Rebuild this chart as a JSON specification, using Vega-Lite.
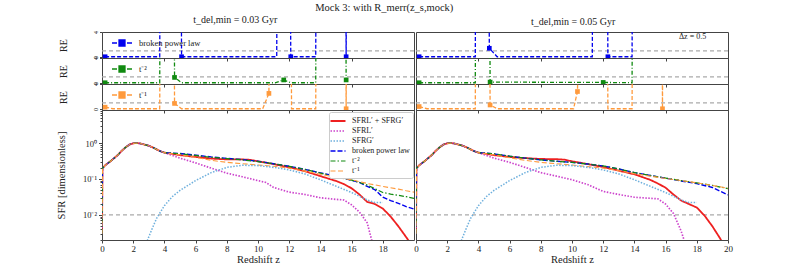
{
"$schema":"https://vega.github.io/schema/vega-lite/v6.json",
"padding":{"left":55,"top":2,"right":5,"bottom":2},
"title":{"text":"Mock 3: with R_merr(z_s,mock)","fontSize":10.5,"anchor":"middle","offset":2,"dx":-10},
"datasets":{
"reL":[
{"c":"a","s":"b","z":0.2,"v":0.05},{"c":"a","s":"b","z":3.7,"v":0.05},{"c":"a","s":"b","z":3.75,"v":30},{"c":"a","s":"b","z":5.05,"v":30},{"c":"a","s":"b","z":5.1,"v":0.05},{"c":"a","s":"b","z":11.2,"v":0.05},{"c":"a","s":"b","z":11.25,"v":30},{"c":"a","s":"b","z":12.05,"v":30},{"c":"a","s":"b","z":12.1,"v":0.05},{"c":"a","s":"b","z":13.7,"v":0.05},{"c":"a","s":"b","z":13.75,"v":30},{"c":"a","s":"b","z":15.6,"v":30},{"c":"a","s":"b","z":15.65,"v":0.05},{"c":"a","s":"b","z":15.7,"v":30},
{"c":"a","s":"t2","z":0.2,"v":0.05},{"c":"a","s":"t2","z":3.7,"v":0.05},{"c":"a","s":"t2","z":3.75,"v":30},{"c":"a","s":"t2","z":4.6,"v":30},{"c":"a","s":"t2","z":4.65,"v":0.9},{"c":"a","s":"t2","z":5.1,"v":0.05},{"c":"a","s":"t2","z":11.1,"v":0.05},{"c":"a","s":"t2","z":11.65,"v":0.5},{"c":"a","s":"t2","z":12.1,"v":0.05},{"c":"a","s":"t2","z":13.7,"v":0.05},{"c":"a","s":"t2","z":13.75,"v":30},{"c":"a","s":"t2","z":15.6,"v":30},{"c":"a","s":"t2","z":15.65,"v":0.5},
{"c":"a","s":"t1","z":0.2,"v":0.3},{"c":"a","s":"t1","z":0.7,"v":0.05},{"c":"a","s":"t1","z":3.7,"v":0.05},{"c":"a","s":"t1","z":3.75,"v":30},{"c":"a","s":"t1","z":4.6,"v":30},{"c":"a","s":"t1","z":4.65,"v":0.9},{"c":"a","s":"t1","z":5.1,"v":0.05},{"c":"a","s":"t1","z":10.3,"v":0.05},{"c":"a","s":"t1","z":10.7,"v":2.5},{"c":"a","s":"t1","z":10.75,"v":30},{"c":"a","s":"t1","z":12.1,"v":30},{"c":"a","s":"t1","z":12.15,"v":0.05},{"c":"a","s":"t1","z":13.7,"v":0.05},{"c":"a","s":"t1","z":13.75,"v":30},{"c":"a","s":"t1","z":15.6,"v":30},{"c":"a","s":"t1","z":15.65,"v":0.05},{"c":"a","s":"t1","z":15.7,"v":30},
{"c":"b","s":"b","z":0.2,"v":0.05},{"c":"b","s":"b","z":3.8,"v":0.05},{"c":"b","s":"b","z":3.85,"v":30},{"c":"b","s":"b","z":4.65,"v":30},{"c":"b","s":"b","z":4.7,"v":1.4},{"c":"b","s":"b","z":5.2,"v":0.05},{"c":"b","s":"b","z":11.3,"v":0.05},{"c":"b","s":"b","z":11.35,"v":30},{"c":"b","s":"b","z":12.25,"v":30},{"c":"b","s":"b","z":12.3,"v":0.05},{"c":"b","s":"b","z":13.85,"v":0.05},{"c":"b","s":"b","z":13.9,"v":30},
{"c":"b","s":"t2","z":0.2,"v":0.05},{"c":"b","s":"t2","z":3.8,"v":0.05},{"c":"b","s":"t2","z":3.85,"v":30},{"c":"b","s":"t2","z":4.7,"v":30},{"c":"b","s":"t2","z":4.75,"v":0.15},{"c":"b","s":"t2","z":12,"v":0.1},{"c":"b","s":"t2","z":13.85,"v":0.05},{"c":"b","s":"t2","z":13.9,"v":30},
{"c":"b","s":"t1","z":0.2,"v":0.4},{"c":"b","s":"t1","z":0.7,"v":0.05},{"c":"b","s":"t1","z":3.8,"v":0.05},{"c":"b","s":"t1","z":3.85,"v":30},{"c":"b","s":"t1","z":4.7,"v":30},{"c":"b","s":"t1","z":4.75,"v":0.65},{"c":"b","s":"t1","z":5.2,"v":0.05},{"c":"b","s":"t1","z":10.1,"v":0.05},{"c":"b","s":"t1","z":10.35,"v":2.8},{"c":"b","s":"t1","z":10.6,"v":30},{"c":"b","s":"t1","z":12.25,"v":30},{"c":"b","s":"t1","z":12.3,"v":0.05},{"c":"b","s":"t1","z":13.85,"v":0.05},{"c":"b","s":"t1","z":13.9,"v":30},{"c":"b","s":"t1","z":15.75,"v":30},{"c":"b","s":"t1","z":15.8,"v":0.05},{"c":"b","s":"t1","z":15.85,"v":30}
],
"reM":[
{"c":"a","s":"b","z":0.2,"v":0.05},{"c":"a","s":"b","z":5.1,"v":0.05},{"c":"a","s":"b","z":12.1,"v":0.05},{"c":"a","s":"b","z":15.65,"v":0.05},
{"c":"a","s":"t2","z":0.2,"v":0.05},{"c":"a","s":"t2","z":4.65,"v":0.9},{"c":"a","s":"t2","z":11.65,"v":0.5},{"c":"a","s":"t2","z":15.65,"v":0.5},
{"c":"a","s":"t1","z":0.2,"v":0.3},{"c":"a","s":"t1","z":4.65,"v":0.9},{"c":"a","s":"t1","z":10.7,"v":2.5},{"c":"a","s":"t1","z":15.65,"v":0.05},
{"c":"b","s":"b","z":0.2,"v":0.05},{"c":"b","s":"b","z":4.7,"v":1.4},{"c":"b","s":"b","z":12.3,"v":0.05},
{"c":"b","s":"t2","z":0.2,"v":0.05},{"c":"b","s":"t2","z":4.75,"v":0.15},{"c":"b","s":"t2","z":12,"v":0.1},
{"c":"b","s":"t1","z":0.2,"v":0.4},{"c":"b","s":"t1","z":4.75,"v":0.65},{"c":"b","s":"t1","z":10.35,"v":2.8},{"c":"b","s":"t1","z":15.8,"v":0.05}
],
"main":[
{"c":"x","z":0,"r":0.003,"m":0.003,"b":0.003,"t2":0.003,"t1":0.003},
{"c":"x","z":0.03,"r":0.2,"m":0.2,"b":0.2,"t2":0.2,"t1":0.2},
{"c":"x","z":0.25,"r":0.25,"m":0.25,"b":0.25,"t2":0.25,"t1":0.25},
{"c":"x","z":0.5,"r":0.3,"m":0.3,"b":0.3,"t2":0.3,"t1":0.3},
{"c":"x","z":0.75,"r":0.37,"m":0.37,"b":0.37,"t2":0.37,"t1":0.37},
{"c":"x","z":1,"r":0.46,"m":0.46,"b":0.46,"t2":0.46,"t1":0.46},
{"c":"x","z":1.25,"r":0.6,"m":0.6,"b":0.6,"t2":0.6,"t1":0.6},
{"c":"x","z":1.5,"r":0.75,"m":0.75,"b":0.75,"t2":0.75,"t1":0.75},
{"c":"x","z":1.75,"r":0.9,"m":0.9,"b":0.9,"t2":0.9,"t1":0.9},
{"c":"x","z":2,"r":0.98,"m":0.98,"b":0.98,"t2":0.98,"t1":0.98},
{"c":"x","z":2.25,"r":1.0,"m":1.0,"b":1.0,"t2":1.0,"t1":1.0},
{"c":"x","z":2.5,"r":0.96,"m":0.96,"b":0.96,"t2":0.96,"t1":0.96},
{"c":"x","z":3,"r":0.84,"m":0.84,"b":0.84,"t2":0.84,"t1":0.84},
{"c":"x","z":3.3,"r":0.74,"m":0.74,"b":0.74,"t2":0.74,"t1":0.74},
{"c":"x","z":3.7,"r":0.6,"m":0.6,"b":0.6,"t2":0.6,"t1":0.6},
{"c":"x","z":4,"r":0.54,"m":0.54,"b":0.54,"t2":0.54,"t1":0.54},
{"c":"a","z":2.9,"g":0.0019},{"c":"a","z":3.2,"g":0.004},{"c":"a","z":3.5,"g":0.008},{"c":"a","z":4,"g":0.018},
{"c":"a","z":4.5,"r":0.5,"m":0.45,"b":0.52,"t2":0.52,"t1":0.5,"g":0.032},
{"c":"a","z":5,"r":0.46,"m":0.38,"b":0.51,"t2":0.5,"t1":0.47,"g":0.048},
{"c":"a","z":6,"r":0.41,"m":0.28,"b":0.46,"t2":0.45,"t1":0.4,"g":0.09},
{"c":"a","z":7,"r":0.37,"m":0.2,"b":0.41,"t2":0.4,"t1":0.33,"g":0.15},
{"c":"a","z":8,"r":0.35,"m":0.145,"b":0.375,"t2":0.37,"t1":0.29,"g":0.21},
{"c":"a","z":9,"r":0.35,"m":0.115,"b":0.345,"t2":0.34,"t1":0.265,"g":0.24},
{"c":"a","z":9.5,"r":0.34},
{"c":"a","z":10,"r":0.31,"m":0.09,"b":0.31,"t2":0.305,"t1":0.245,"g":0.235},
{"c":"a","z":10.5,"m":0.08},
{"c":"a","z":11,"r":0.26,"m":0.058,"b":0.265,"t2":0.265,"t1":0.225,"g":0.21},
{"c":"a","z":12,"r":0.21,"m":0.043,"b":0.225,"t2":0.225,"t1":0.2,"g":0.178},
{"c":"a","z":13,"r":0.165,"m":0.037,"b":0.185,"t2":0.185,"t1":0.165,"g":0.138},
{"c":"a","z":14,"r":0.12,"m":0.03,"b":0.148,"t2":0.145,"t1":0.135,"g":0.095},
{"c":"a","z":15,"r":0.088,"m":0.027,"b":0.12,"t2":0.117,"t1":0.11,"g":0.063},
{"c":"a","z":15.5,"r":0.072,"m":0.026},
{"c":"a","z":16,"r":0.055,"m":0.019,"b":0.092,"t2":0.093,"t1":0.095,"g":0.042},
{"c":"a","z":16.5,"r":0.037,"m":0.012,"b":0.08},
{"c":"a","z":17,"r":0.023,"m":0.006,"b":0.062,"t2":0.068,"t1":0.075,"g":0.026},
{"c":"a","z":17.3,"m":0.0019},
{"c":"a","z":17.5,"r":0.02,"b":0.05,"g":0.022},
{"c":"a","z":18,"r":0.015,"b":0.031,"t2":0.042,"t1":0.062,"g":0.022},
{"c":"a","z":18.5,"r":0.009,"b":0.025,"t2":0.038},
{"c":"a","z":19,"r":0.0048,"b":0.021,"t2":0.035,"t1":0.052},
{"c":"a","z":19.5,"r":0.0024,"b":0.017,"t2":0.032,"t1":0.047},
{"c":"a","z":19.7,"r":0.0018},
{"c":"a","z":20,"b":0.0145,"t2":0.029,"t1":0.043},
{"c":"b","z":2.9,"g":0.0019},{"c":"b","z":3.2,"g":0.004},{"c":"b","z":3.5,"g":0.008},{"c":"b","z":4,"g":0.018},
{"c":"b","z":4.5,"r":0.5,"m":0.45,"b":0.52,"t2":0.52,"t1":0.5,"g":0.032},
{"c":"b","z":5,"r":0.46,"m":0.38,"b":0.5,"t2":0.5,"t1":0.47,"g":0.048},
{"c":"b","z":6,"r":0.41,"m":0.29,"b":0.43,"t2":0.43,"t1":0.39,"g":0.09},
{"c":"b","z":7,"r":0.38,"m":0.21,"b":0.38,"t2":0.38,"t1":0.33,"g":0.15},
{"c":"b","z":8,"r":0.36,"m":0.15,"b":0.34,"t2":0.34,"t1":0.29,"g":0.21},
{"c":"b","z":9,"r":0.355,"m":0.12,"b":0.31,"t2":0.31,"t1":0.265,"g":0.24},
{"c":"b","z":9.5,"r":0.345},
{"c":"b","z":10,"r":0.31,"m":0.095,"b":0.29,"t2":0.29,"t1":0.245,"g":0.235},
{"c":"b","z":11,"r":0.26,"m":0.07,"b":0.26,"t2":0.26,"t1":0.22,"g":0.21},
{"c":"b","z":12,"r":0.215,"m":0.045,"b":0.23,"t2":0.23,"t1":0.2,"g":0.178},
{"c":"b","z":13,"r":0.17,"m":0.037,"b":0.19,"t2":0.19,"t1":0.17,"g":0.138},
{"c":"b","z":14,"r":0.135,"m":0.031,"b":0.15,"t2":0.15,"t1":0.14,"g":0.095},
{"c":"b","z":15,"r":0.095,"m":0.029,"b":0.125,"t2":0.125,"t1":0.12,"g":0.063},
{"c":"b","z":15.5,"r":0.075,"m":0.028},
{"c":"b","z":16,"r":0.057,"m":0.02,"b":0.105,"t2":0.106,"t1":0.103,"g":0.042},
{"c":"b","z":16.5,"r":0.037,"m":0.011},
{"c":"b","z":17,"r":0.025,"m":0.0035,"b":0.088,"t2":0.09,"t1":0.09,"g":0.026},
{"c":"b","z":17.2,"m":0.0019},
{"c":"b","z":17.5,"r":0.02,"g":0.022},
{"c":"b","z":18,"r":0.016,"b":0.074,"t2":0.078,"t1":0.078,"g":0.022},
{"c":"b","z":18.5,"r":0.0095},
{"c":"b","z":19,"r":0.0048,"b":0.058,"t2":0.066,"t1":0.066},
{"c":"b","z":19.5,"r":0.0022},
{"c":"b","z":19.6,"r":0.0018},
{"c":"b","z":20,"b":0.036,"t2":0.054,"t1":0.055}
]
},
"spacing":-4,
"resolve":{"scale":{"color":"independent","strokeDash":"independent","strokeWidth":"independent"}},
"hconcat":[
{
"title":{"text":"t_del,min = 0.03 Gyr","fontSize":10,"offset":5,"anchor":"middle"},
"spacing":0,
"bounds":"flush",
"resolve":{"scale":{"color":"independent","strokeDash":"independent","strokeWidth":"independent"}},
"vconcat":[
{"width":312,"height":26,"layer":[
{"data":{"values":[{}]},"mark":{"type":"rule","color":"#aaaaaa","strokeDash":[4,3],"strokeWidth":1.2},"encoding":{"y":{"datum":1,"type":"quantitative","scale":{"domain":[-0.15,4],"nice":false,"zero":false},"axis":{"title":"RE","values":[0,1,2,3,4],"labelAngle":270,"labelFontSize":6,"labelPadding":1,"tickSize":2.5,"titleX":-39,"titleY":13,"titleAngle":270,"titleAlign":"center","titleBaseline":"middle","titleFontSize":10,"domain":false}}}},
{"data":{"name":"reL"},"transform":[{"filter":"datum.c=='a'&&datum.s=='b'"}],"mark":{"type":"line","clip":true,"strokeDash":[4,2],"strokeWidth":1.3,"color":"#0000ee"},"encoding":{"x":{"field":"z","type":"quantitative","scale":{"domain":[0,20],"nice":false},"axis":{"labels":false,"title":null,"values":[0,2,4,6,8,10,12,14,16,18,20],"tickSize":3,"domain":false}},"y":{"field":"v","type":"quantitative"}}},
{"data":{"name":"reM"},"transform":[{"filter":"datum.c=='a'&&datum.s=='b'"}],"mark":{"type":"square","size":22,"clip":true,"opacity":1},"encoding":{"x":{"field":"z","type":"quantitative"},"y":{"field":"v","type":"quantitative"},"color":{"field":"s","type":"nominal","scale":{"domain":["b"],"range":["#0000ee"]},"legend":{"orient":"none","legendX":9,"legendY":0,"title":null,"padding":0,"symbolType":"M-1,0H-0.5M0.5,0H1M-0.3,-0.3H0.3V0.3H-0.3Z","symbolSize":400,"symbolStrokeWidth":1.3,"symbolStrokeColor":"#0000ee","labelFontSize":8.5,"labelOffset":6,"labelExpr":"datum.label=='b'?'broken power law':datum.label=='t2'?'t⁻²':'t⁻¹'"}}}}
]},
{"width":312,"height":26,"layer":[
{"data":{"values":[{}]},"mark":{"type":"rule","color":"#aaaaaa","strokeDash":[4,3],"strokeWidth":1.2},"encoding":{"y":{"datum":1,"type":"quantitative","scale":{"domain":[-0.15,4],"nice":false,"zero":false},"axis":{"title":"RE","values":[0,1,2,3,4],"labelAngle":270,"labelFontSize":6,"labelPadding":1,"tickSize":2.5,"titleX":-39,"titleY":13,"titleAngle":270,"titleAlign":"center","titleBaseline":"middle","titleFontSize":10,"domain":false}}}},
{"data":{"name":"reL"},"transform":[{"filter":"datum.c=='a'&&datum.s=='t2'"}],"mark":{"type":"line","clip":true,"strokeDash":[4,2,1,2],"strokeWidth":1.3,"color":"#108a10"},"encoding":{"x":{"field":"z","type":"quantitative","scale":{"domain":[0,20],"nice":false},"axis":{"labels":false,"title":null,"values":[0,2,4,6,8,10,12,14,16,18,20],"tickSize":3,"domain":false}},"y":{"field":"v","type":"quantitative"}}},
{"data":{"name":"reM"},"transform":[{"filter":"datum.c=='a'&&datum.s=='t2'"}],"mark":{"type":"square","size":22,"clip":true,"opacity":1},"encoding":{"x":{"field":"z","type":"quantitative"},"y":{"field":"v","type":"quantitative"},"color":{"field":"s","type":"nominal","scale":{"domain":["t2"],"range":["#108a10"]},"legend":{"orient":"none","legendX":9,"legendY":0,"title":null,"padding":0,"symbolType":"M-1,0H-0.5M0.5,0H1M-0.3,-0.3H0.3V0.3H-0.3Z","symbolSize":400,"symbolStrokeWidth":1.3,"symbolStrokeColor":"#108a10","labelFontSize":8.5,"labelOffset":6,"labelExpr":"datum.label=='b'?'broken power law':datum.label=='t2'?'t⁻²':'t⁻¹'"}}}}
]},
{"width":312,"height":26,"layer":[
{"data":{"values":[{}]},"mark":{"type":"rule","color":"#aaaaaa","strokeDash":[4,3],"strokeWidth":1.2},"encoding":{"y":{"datum":1,"type":"quantitative","scale":{"domain":[-0.15,4],"nice":false,"zero":false},"axis":{"title":"RE","values":[0,1,2,3,4],"labelAngle":270,"labelFontSize":6,"labelPadding":1,"tickSize":2.5,"titleX":-39,"titleY":13,"titleAngle":270,"titleAlign":"center","titleBaseline":"middle","titleFontSize":10,"domain":false}}}},
{"data":{"name":"reL"},"transform":[{"filter":"datum.c=='a'&&datum.s=='t1'"}],"mark":{"type":"line","clip":true,"strokeDash":[4,2],"strokeWidth":1.3,"color":"#ff9a3c"},"encoding":{"x":{"field":"z","type":"quantitative","scale":{"domain":[0,20],"nice":false},"axis":{"labels":false,"title":null,"values":[0,2,4,6,8,10,12,14,16,18,20],"tickSize":3,"domain":false}},"y":{"field":"v","type":"quantitative"}}},
{"data":{"name":"reM"},"transform":[{"filter":"datum.c=='a'&&datum.s=='t1'"}],"mark":{"type":"square","size":22,"clip":true,"opacity":1},"encoding":{"x":{"field":"z","type":"quantitative"},"y":{"field":"v","type":"quantitative"},"color":{"field":"s","type":"nominal","scale":{"domain":["t1"],"range":["#ff9a3c"]},"legend":{"orient":"none","legendX":9,"legendY":0,"title":null,"padding":0,"symbolType":"M-1,0H-0.5M0.5,0H1M-0.3,-0.3H0.3V0.3H-0.3Z","symbolSize":400,"symbolStrokeWidth":1.3,"symbolStrokeColor":"#ff9a3c","labelFontSize":8.5,"labelOffset":6,"labelExpr":"datum.label=='b'?'broken power law':datum.label=='t2'?'t⁻²':'t⁻¹'"}}}}
]},
{"width":312,"height":130,"layer":[
{"data":{"values":[{}]},"mark":{"type":"rule","color":"#aaaaaa","strokeDash":[4,3],"strokeWidth":1.2},"encoding":{"y":{"datum":0.01,"type":"quantitative","scale":{"type":"log","domain":[0.002,8.3],"nice":false},"axis":{"title":"SFR [dimensionless]","values":[0.002,0.003,0.004,0.005,0.006,0.007,0.008,0.009,0.01,0.02,0.03,0.04,0.05,0.06,0.07,0.08,0.09,0.1,0.2,0.3,0.4,0.5,0.6,0.7,0.8,0.9,1,2,3,4,5,6,7,8],"labelExpr":"datum.value==1?'10⁰':datum.value==0.1?'10⁻¹':datum.value==0.01?'10⁻²':''","labelOverlap":false,"tickSize":{"condition":{"test":"datum.value==1||datum.value==0.1||datum.value==0.01","value":3.5},"value":2},"labelFontSize":8.5,"labelPadding":2,"titleX":-41,"titleY":65,"titleAngle":270,"titleAlign":"center","titleBaseline":"middle","titleFontSize":10.5,"domain":false}}}},
{"data":{"name":"main"},"transform":[{"filter":"datum.c=='a'||datum.c=='x'"},{"fold":["r","m","g","b","t2","t1"],"as":["s","v"]},{"filter":"isValid(datum.v)"}],"mark":{"type":"line","clip":true},"encoding":{
"x":{"field":"z","type":"quantitative","scale":{"domain":[0,20],"nice":false},"axis":{"values":[0,2,4,6,8,10,12,14,16,18],"title":"Redshift z","titleFontSize":10.5,"labelFontSize":9,"tickSize":3,"labelPadding":1,"titlePadding":1,"domain":false,"labelFlush":false}},
"y":{"field":"v","type":"quantitative"},
"color":{"field":"s","type":"nominal","scale":{"domain":["r","m","g","b","t2","t1"],"range":["#ee2020","#cc44cc","#6fb0dd","#0000ee","#108a10","#ff9a3c"]},"legend":{"orient":"none","legendX":227,"legendY":2,"title":null,"labelExpr":"datum.label=='r'?'SFRL′ + SFRG′':datum.label=='m'?'SFRL′':datum.label=='g'?'SFRG′':datum.label=='b'?'broken power law':datum.label=='t2'?'t⁻²':'t⁻¹'","labelFontSize":8,"symbolType":"M-1.5,0H1.5","symbolSize":100,"symbolStrokeWidth":1.5,"fillColor":"#ffffff","strokeColor":"#cccccc","padding":3,"cornerRadius":2,"rowPadding":0,"labelOffset":8}},
"strokeDash":{"field":"s","type":"nominal","scale":{"domain":["r","m","g","b","t2","t1"],"range":[[1,0],[1.5,1.5],[1.5,1.5],[5,2],[5,2,1.5,2],[5,2.5]]},"legend":{"orient":"none","legendX":227,"legendY":2,"title":null,"labelExpr":"datum.label=='r'?'SFRL′ + SFRG′':datum.label=='m'?'SFRL′':datum.label=='g'?'SFRG′':datum.label=='b'?'broken power law':datum.label=='t2'?'t⁻²':'t⁻¹'","labelFontSize":8,"symbolType":"M-1.5,0H1.5","symbolSize":100,"symbolStrokeWidth":1.5,"fillColor":"#ffffff","strokeColor":"#cccccc","padding":3,"cornerRadius":2,"rowPadding":0,"labelOffset":8}},
"strokeWidth":{"field":"s","type":"nominal","scale":{"domain":["r","m","g","b","t2","t1"],"range":[1.8,1.1,1.1,1.5,1.3,1.7]},"legend":null}
}}
]}
]},
{
"title":{"text":"t_del,min = 0.05 Gyr","fontSize":10,"offset":5,"anchor":"middle"},
"spacing":0,
"bounds":"flush",
"resolve":{"scale":{"color":"independent","strokeDash":"independent","strokeWidth":"independent"}},
"vconcat":[
{"width":312,"height":26,"layer":[
{"data":{"values":[{}]},"mark":{"type":"rule","color":"#aaaaaa","strokeDash":[4,3],"strokeWidth":1.2},"encoding":{"y":{"datum":1,"type":"quantitative","scale":{"domain":[-0.15,4],"nice":false,"zero":false},"axis":null}}},
{"data":{"name":"reL"},"transform":[{"filter":"datum.c=='b'&&datum.s=='b'"}],"mark":{"type":"line","clip":true,"strokeDash":[4,2],"strokeWidth":1.3,"color":"#0000ee"},"encoding":{"x":{"field":"z","type":"quantitative","scale":{"domain":[0,20],"nice":false},"axis":{"labels":false,"title":null,"values":[0,2,4,6,8,10,12,14,16,18,20],"tickSize":3,"domain":false}},"y":{"field":"v","type":"quantitative"}}},
{"data":{"name":"reM"},"transform":[{"filter":"datum.c=='b'&&datum.s=='b'"}],"mark":{"type":"square","size":22,"clip":true,"opacity":1,"color":"#0000ee"},"encoding":{"x":{"field":"z","type":"quantitative"},"y":{"field":"v","type":"quantitative"}}},
{"data":{"values":[{"z":18.6,"v":3.2,"t":"Δz = 0.5"}]},"mark":{"type":"text","align":"right","fontSize":8,"color":"#222222"},"encoding":{"x":{"field":"z","type":"quantitative"},"y":{"field":"v","type":"quantitative"},"text":{"field":"t"}}}
]},
{"width":312,"height":26,"layer":[
{"data":{"values":[{}]},"mark":{"type":"rule","color":"#aaaaaa","strokeDash":[4,3],"strokeWidth":1.2},"encoding":{"y":{"datum":1,"type":"quantitative","scale":{"domain":[-0.15,4],"nice":false,"zero":false},"axis":null}}},
{"data":{"name":"reL"},"transform":[{"filter":"datum.c=='b'&&datum.s=='t2'"}],"mark":{"type":"line","clip":true,"strokeDash":[4,2,1,2],"strokeWidth":1.3,"color":"#108a10"},"encoding":{"x":{"field":"z","type":"quantitative","scale":{"domain":[0,20],"nice":false},"axis":{"labels":false,"title":null,"values":[0,2,4,6,8,10,12,14,16,18,20],"tickSize":3,"domain":false}},"y":{"field":"v","type":"quantitative"}}},
{"data":{"name":"reM"},"transform":[{"filter":"datum.c=='b'&&datum.s=='t2'"}],"mark":{"type":"square","size":22,"clip":true,"opacity":1,"color":"#108a10"},"encoding":{"x":{"field":"z","type":"quantitative"},"y":{"field":"v","type":"quantitative"}}}
]},
{"width":312,"height":26,"layer":[
{"data":{"values":[{}]},"mark":{"type":"rule","color":"#aaaaaa","strokeDash":[4,3],"strokeWidth":1.2},"encoding":{"y":{"datum":1,"type":"quantitative","scale":{"domain":[-0.15,4],"nice":false,"zero":false},"axis":null}}},
{"data":{"name":"reL"},"transform":[{"filter":"datum.c=='b'&&datum.s=='t1'"}],"mark":{"type":"line","clip":true,"strokeDash":[4,2],"strokeWidth":1.3,"color":"#ff9a3c"},"encoding":{"x":{"field":"z","type":"quantitative","scale":{"domain":[0,20],"nice":false},"axis":{"labels":false,"title":null,"values":[0,2,4,6,8,10,12,14,16,18,20],"tickSize":3,"domain":false}},"y":{"field":"v","type":"quantitative"}}},
{"data":{"name":"reM"},"transform":[{"filter":"datum.c=='b'&&datum.s=='t1'"}],"mark":{"type":"square","size":22,"clip":true,"opacity":1,"color":"#ff9a3c"},"encoding":{"x":{"field":"z","type":"quantitative"},"y":{"field":"v","type":"quantitative"}}}
]},
{"width":312,"height":130,"layer":[
{"data":{"values":[{}]},"mark":{"type":"rule","color":"#aaaaaa","strokeDash":[4,3],"strokeWidth":1.2},"encoding":{"y":{"datum":0.01,"type":"quantitative","scale":{"type":"log","domain":[0.002,8.3],"nice":false},"axis":null}}},
{"data":{"name":"main"},"transform":[{"filter":"datum.c=='b'||datum.c=='x'"},{"fold":["r","m","g","b","t2","t1"],"as":["s","v"]},{"filter":"isValid(datum.v)"}],"mark":{"type":"line","clip":true},"encoding":{
"x":{"field":"z","type":"quantitative","scale":{"domain":[0,20],"nice":false},"axis":{"values":[0,2,4,6,8,10,12,14,16,18,20],"title":"Redshift z","titleFontSize":10.5,"labelFontSize":9,"tickSize":3,"labelPadding":1,"titlePadding":1,"domain":false,"labelFlush":false}},
"y":{"field":"v","type":"quantitative"},
"color":{"field":"s","type":"nominal","scale":{"domain":["r","m","g","b","t2","t1"],"range":["#ee2020","#cc44cc","#6fb0dd","#0000ee","#108a10","#ff9a3c"]},"legend":null},
"strokeDash":{"field":"s","type":"nominal","scale":{"domain":["r","m","g","b","t2","t1"],"range":[[1,0],[1.5,1.5],[1.5,1.5],[5,2],[5,2,1.5,2],[5,2.5]]},"legend":null},
"strokeWidth":{"field":"s","type":"nominal","scale":{"domain":["r","m","g","b","t2","t1"],"range":[1.8,1.1,1.1,1.5,1.3,1.7]},"legend":null}
}}
]}
]}
],
"config":{"font":"Liberation Serif","view":{"stroke":"#444444","strokeWidth":1},"axis":{"grid":false,"tickColor":"#444444","labelColor":"#222222","titleColor":"#222222","titleFontWeight":"normal","labelFont":"Liberation Serif","titleFont":"Liberation Serif"},"title":{"font":"Liberation Serif","fontWeight":"normal","color":"#222222"},"legend":{"labelColor":"#222222","labelFont":"Liberation Serif"}}
}
